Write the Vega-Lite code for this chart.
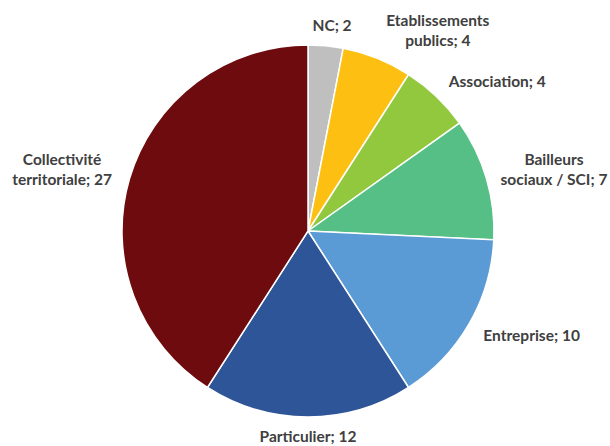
{
  "$schema": "https://vega.github.io/schema/vega-lite/v6.json",
  "autosize": {"type": "none"},
  "width": 604,
  "height": 430,
  "padding": {"left": 6, "top": 16, "right": 0, "bottom": 0},
  "background": "white",
  "config": {
    "view": {"stroke": null},
    "text": {"font": "Lato", "fontWeight": "bold", "fontSize": 15.5, "color": "#404040", "align": "center", "baseline": "middle", "lineBreak": "|", "lineHeight": 20}
  },
  "data": {
    "values": [
      {"order": 1, "category": "NC", "value": 2, "label": "NC; 2"},
      {"order": 2, "category": "Etablissements publics", "value": 4, "label": "Etablissements|publics; 4"},
      {"order": 3, "category": "Association", "value": 4, "label": "Association; 4"},
      {"order": 4, "category": "Bailleurs sociaux / SCI", "value": 7, "label": "Bailleurs|sociaux / SCI; 7"},
      {"order": 5, "category": "Entreprise", "value": 10, "label": "Entreprise; 10"},
      {"order": 6, "category": "Particulier", "value": 12, "label": "Particulier; 12"},
      {"order": 7, "category": "Collectivité territoriale", "value": 27, "label": "Collectivité|territoriale; 27"}
    ]
  },
  "transform": [
    {"stack": "value", "groupby": [], "sort": [{"field": "order", "order": "ascending"}], "as": ["v0", "v1"]}
  ],
  "layer": [
    {
      "mark": {"type": "arc", "outerRadius": 186, "stroke": "white", "strokeWidth": 1.5},
      "encoding": {
        "theta": {"field": "v0", "type": "quantitative", "scale": {"domain": [0, 66]}},
        "theta2": {"field": "v1"},
        "color": {
          "field": "category",
          "type": "nominal",
          "legend": null,
          "scale": {
            "domain": ["NC", "Etablissements publics", "Association", "Bailleurs sociaux / SCI", "Entreprise", "Particulier", "Collectivité territoriale"],
            "range": ["#BFBFBF", "#FDC012", "#92C83E", "#55BF85", "#5B9BD5", "#2E5597", "#6E0B0E"]
          }
        }
      }
    },
    {
      "transform": [{"filter": "datum.category === 'NC'"}],
      "mark": {"type": "text", "radius": 206, "thetaOffset": 0.117},
      "encoding": {"theta": {"field": "v0", "type": "quantitative"}, "text": {"field": "label"}}
    },
    {
      "transform": [{"filter": "datum.category === 'Etablissements publics'"}],
      "mark": {"type": "text", "radius": 247, "thetaOffset": 0.363},
      "encoding": {"theta": {"field": "v0", "type": "quantitative"}, "text": {"field": "label"}}
    },
    {
      "transform": [{"filter": "datum.category === 'Association'"}],
      "mark": {"type": "text", "radius": 241, "thetaOffset": 0.332},
      "encoding": {"theta": {"field": "v0", "type": "quantitative"}, "text": {"field": "label"}}
    },
    {
      "transform": [{"filter": "datum.category === 'Bailleurs sociaux / SCI'"}],
      "mark": {"type": "text", "radius": 256, "thetaOffset": 0.338},
      "encoding": {"theta": {"field": "v0", "type": "quantitative"}, "text": {"field": "label"}}
    },
    {
      "transform": [{"filter": "datum.category === 'Entreprise'"}],
      "mark": {"type": "text", "radius": 247, "thetaOffset": 0.391},
      "encoding": {"theta": {"field": "v0", "type": "quantitative"}, "text": {"field": "label"}}
    },
    {
      "transform": [{"filter": "datum.category === 'Particulier'"}],
      "mark": {"type": "text", "radius": 206, "thetaOffset": 0.571},
      "encoding": {"theta": {"field": "v0", "type": "quantitative"}, "text": {"field": "label"}}
    },
    {
      "transform": [{"filter": "datum.category === 'Collectivité territoriale'"}],
      "mark": {"type": "text", "radius": 256, "thetaOffset": 1.281},
      "encoding": {"theta": {"field": "v0", "type": "quantitative"}, "text": {"field": "label"}}
    }
  ]
}
